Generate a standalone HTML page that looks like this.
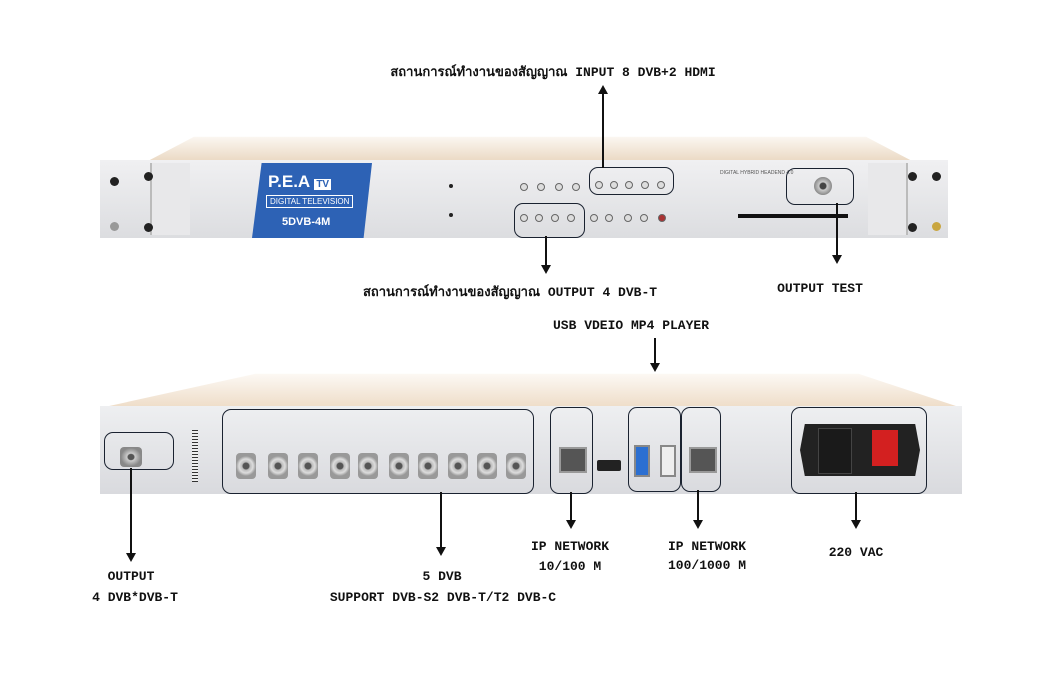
<!DOCTYPE html>
<html><head><meta charset="utf-8"><style>
body{margin:0;width:1040px;height:690px;background:#fff;position:relative;overflow:hidden;font-family:"Liberation Mono","Noto Sans CJK SC",monospace;}
.a{position:absolute}
.t{position:absolute;font-weight:bold;font-size:13px;color:#111;white-space:nowrap;transform:translateX(-50%)}
.box{position:absolute;border:1.5px solid #1a2230;border-radius:9px}
.vl{position:absolute;width:1.5px;background:#111}
.ad{position:absolute;width:0;height:0;border-left:5px solid transparent;border-right:5px solid transparent;border-top:9px solid #111}
.au{position:absolute;width:0;height:0;border-left:5px solid transparent;border-right:5px solid transparent;border-bottom:9px solid #111}
.led{position:absolute;width:6px;height:6px;border-radius:50%;border:1px solid #666;background:#ddd}
.con{position:absolute;width:20px;height:26px;border-radius:4px;background:radial-gradient(circle,#555 0 3px,#bbb 4px,#ddd 7px,#999 10px);}
.screw{position:absolute;width:9px;height:9px;border-radius:50%;background:#222}
</style></head><body>
<!-- FRONT UNIT -->
<div class="a" style="left:130px;top:134px;width:800px;height:28px;background:linear-gradient(#fdfaf6,#ead8c2);clip-path:polygon(2% 100%,8% 10%,92% 10%,98% 100%)"></div>
<div class="a" style="left:100px;top:160px;width:848px;height:78px;background:linear-gradient(#f0f0f2,#dcdde0);"></div>
<div class="a" style="left:150px;top:163px;width:38px;height:72px;background:#e8e8ea;border-left:2px solid #bbb"></div>
<div class="a" style="left:868px;top:163px;width:38px;height:72px;background:#e8e8ea;border-right:2px solid #bbb"></div>
<div class="screw" style="left:110px;top:177px"></div><div class="screw" style="left:110px;top:222px;background:#999"></div>
<div class="screw" style="left:144px;top:172px"></div><div class="screw" style="left:144px;top:223px"></div>
<div class="screw" style="left:908px;top:172px"></div><div class="screw" style="left:908px;top:223px"></div>
<div class="screw" style="left:932px;top:172px"></div><div class="screw" style="left:932px;top:222px;background:#c9a640"></div>
<div class="a" style="left:252px;top:163px;width:120px;height:75px;background:#2d62b5;clip-path:polygon(8% 0,100% 0,93% 100%,0 100%)"></div>
<div class="a" style="left:268px;top:172px;color:#fff;font:bold 17px 'Liberation Sans',sans-serif">P.E.A <span style="background:#fff;color:#2d62b5;font-size:10px;padding:0 2px">TV</span></div>
<div class="a" style="left:266px;top:195px;color:#fff;border:1px solid #fff;font:8px 'Liberation Sans',sans-serif;padding:1px 3px">DIGITAL TELEVISION</div>
<div class="a" style="left:282px;top:216px;color:#fff;font:bold 11px 'Liberation Sans',sans-serif">5DVB-4M</div>
<div class="screw" style="left:449px;top:184px;width:4px;height:4px"></div><div class="screw" style="left:449px;top:213px;width:4px;height:4px"></div>
<div class="led" style="left:520px;top:183px"></div><div class="led" style="left:537px;top:183px"></div><div class="led" style="left:555px;top:183px"></div><div class="led" style="left:572px;top:183px"></div>
<div class="led" style="left:595px;top:181px"></div><div class="led" style="left:610px;top:181px"></div><div class="led" style="left:625px;top:181px"></div><div class="led" style="left:641px;top:181px"></div><div class="led" style="left:657px;top:181px"></div>
<div class="led" style="left:520px;top:214px"></div><div class="led" style="left:535px;top:214px"></div><div class="led" style="left:551px;top:214px"></div><div class="led" style="left:567px;top:214px"></div>
<div class="led" style="left:590px;top:214px"></div><div class="led" style="left:605px;top:214px"></div><div class="led" style="left:624px;top:214px"></div><div class="led" style="left:640px;top:214px"></div><div class="led" style="left:658px;top:214px;background:#a33"></div>
<div class="a" style="left:738px;top:214px;width:110px;height:4px;background:#111"></div>
<div class="a" style="left:720px;top:170px;font:5px 'Liberation Sans';color:#555">DIGITAL HYBRID HEADEND 4.0</div>
<div class="a" style="left:814px;top:177px;width:18px;height:18px;border-radius:50%;background:radial-gradient(#444 0 3px,#ccc 4px,#888 9px)"></div>
<div class="box" style="left:589px;top:167px;width:83px;height:26px"></div>
<div class="box" style="left:514px;top:203px;width:69px;height:33px"></div>
<div class="box" style="left:786px;top:168px;width:66px;height:35px"></div>
<!-- front arrows -->
<div class="vl" style="left:602px;top:92px;height:76px"></div><div class="au" style="left:598px;top:85px"></div>
<div class="vl" style="left:545px;top:236px;height:30px"></div><div class="ad" style="left:541px;top:265px"></div>
<div class="vl" style="left:836px;top:203px;height:53px"></div><div class="ad" style="left:832px;top:255px"></div>
<div class="t" style="left:553px;top:61px">สถานการณ์ทำงานของสัญญาณ INPUT 8 DVB+2 HDMI</div>
<div class="t" style="left:510px;top:281px">สถานการณ์ทำงานของสัญญาณ OUTPUT 4 DVB-T</div>
<div class="t" style="left:820px;top:281px">OUTPUT TEST</div>
<!-- BACK UNIT -->
<div class="t" style="left:631px;top:318px">USB VDEIO MP4 PLAYER</div>
<div class="vl" style="left:654px;top:338px;height:26px"></div><div class="ad" style="left:650px;top:363px"></div>
<div class="a" style="left:100px;top:372px;width:862px;height:36px;background:linear-gradient(#fdfaf6,#eedcc7);clip-path:polygon(0 100%,18% 5%,88% 5%,100% 100%)"></div>
<div class="a" style="left:100px;top:406px;width:862px;height:88px;background:linear-gradient(#eeeff1,#d9dade);"></div>
<div class="a" style="left:120px;top:447px;width:22px;height:20px;border-radius:4px;background:radial-gradient(#555 0 3px,#ccc 4px,#888 10px)"></div>
<div class="a" style="left:192px;top:430px;width:6px;height:52px;background:repeating-linear-gradient(#333 0 1px,#eee 1px 3px)"></div>
<div class="con" style="left:236px;top:453px"></div><div class="con" style="left:268px;top:453px"></div>
<div class="con" style="left:298px;top:453px"></div><div class="con" style="left:330px;top:453px"></div>
<div class="con" style="left:358px;top:453px"></div><div class="con" style="left:389px;top:453px"></div>
<div class="con" style="left:418px;top:453px"></div><div class="con" style="left:448px;top:453px"></div>
<div class="con" style="left:477px;top:453px"></div><div class="con" style="left:506px;top:453px"></div>
<div class="a" style="left:559px;top:447px;width:24px;height:22px;background:#555;border:2px solid #999"></div>
<div class="a" style="left:597px;top:460px;width:24px;height:11px;background:#222;border-radius:2px"></div>
<div class="a" style="left:634px;top:445px;width:12px;height:28px;background:#2b6fd1;border:2px solid #888"></div>
<div class="a" style="left:660px;top:445px;width:12px;height:28px;background:#eee;border:2px solid #888"></div>
<div class="a" style="left:689px;top:447px;width:24px;height:22px;background:#555;border:2px solid #999"></div>
<div class="a" style="left:800px;top:424px;width:120px;height:52px;background:#222;clip-path:polygon(4% 0,96% 0,100% 50%,96% 100%,4% 100%,0 50%)"></div>
<div class="a" style="left:818px;top:428px;width:32px;height:44px;background:#1a1a1a;border:1px solid #444"></div>
<div class="a" style="left:872px;top:430px;width:26px;height:36px;background:#d32020"></div>
<div class="box" style="left:104px;top:432px;width:68px;height:36px"></div>
<div class="box" style="left:222px;top:409px;width:310px;height:83px"></div>
<div class="box" style="left:550px;top:407px;width:41px;height:85px"></div>
<div class="box" style="left:628px;top:407px;width:51px;height:83px"></div>
<div class="box" style="left:681px;top:407px;width:38px;height:83px"></div>
<div class="box" style="left:791px;top:407px;width:134px;height:85px"></div>
<!-- back arrows -->
<div class="vl" style="left:130px;top:468px;height:86px"></div><div class="ad" style="left:126px;top:553px"></div>
<div class="vl" style="left:440px;top:492px;height:56px"></div><div class="ad" style="left:436px;top:547px"></div>
<div class="vl" style="left:570px;top:492px;height:29px"></div><div class="ad" style="left:566px;top:520px"></div>
<div class="vl" style="left:697px;top:490px;height:31px"></div><div class="ad" style="left:693px;top:520px"></div>
<div class="vl" style="left:855px;top:492px;height:29px"></div><div class="ad" style="left:851px;top:520px"></div>
<div class="t" style="left:131px;top:569px">OUTPUT</div>
<div class="t" style="left:135px;top:590px">4 DVB*DVB-T</div>
<div class="t" style="left:442px;top:569px">5 DVB</div>
<div class="t" style="left:443px;top:590px">SUPPORT DVB-S2 DVB-T/T2 DVB-C</div>
<div class="t" style="left:570px;top:539px">IP NETWORK</div>
<div class="t" style="left:570px;top:559px">10/100 M</div>
<div class="t" style="left:707px;top:539px">IP NETWORK</div>
<div class="t" style="left:707px;top:558px">100/1000 M</div>
<div class="t" style="left:856px;top:545px">220 VAC</div>
</body></html>
